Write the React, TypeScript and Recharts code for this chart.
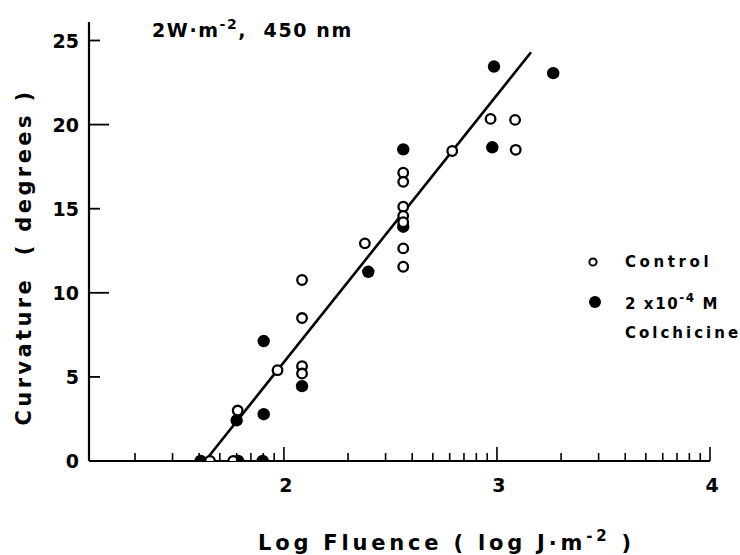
import { ScatterChart, Scatter, XAxis, YAxis, ReferenceLine } from "recharts";

// Control (open circles)
const controlX = [1.653, 1.762, 1.783, 1.97, 2.085, 2.085, 2.085, 2.085, 2.38, 2.56, 2.56, 2.56, 2.56, 2.56, 2.56, 2.56, 2.79, 2.97, 3.085, 3.088];
const controlY = [0, 0, 3.0, 5.4, 10.76, 8.5, 5.64, 5.2, 12.94, 17.14, 16.6, 15.12, 14.57, 14.2, 12.64, 11.55, 18.43, 20.34, 20.28, 18.5];

// 2x10^-4 M colchicine (filled circles)
const colchX = [1.609, 1.785, 1.9, 1.778, 1.905, 1.905, 2.085, 2.396, 2.56, 2.56, 2.978, 2.986, 3.264];
const colchY = [0, 0, 0, 2.42, 2.78, 7.13, 4.45, 11.25, 18.53, 13.93, 18.65, 23.45, 23.06];

// fitted line end points
const fitX = [1.63, 3.16];
const fitY = [0, 24.3];

const yTicks = [0, 5, 10, 15, 20, 25];
const xMajor = [2, 3, 4];
const xDecades = [1, 2, 3];
const xMinorMult = [2, 3, 4, 5, 6, 7, 8, 9];
const X_MIN = 1.085;

const xTicks = [
  ...xDecades.flatMap((d) => xMinorMult.map((m) => d + Math.log10(m))).filter((v) => v > X_MIN),
  ...xMajor,
].sort((a, b) => a - b);

const FONT = '"DejaVu Sans", sans-serif';

const controlPts = controlX.map((x, i) => ({ x, y: controlY[i] }));
const colchPts = colchX.map((x, i) => ({ x, y: colchY[i] }));

function XTick(props: any) {
  const { x, y, payload } = props;
  const v = payload.value;
  const major = xMajor.includes(v);
  return (
    <g>
      <line x1={x} x2={x} y1={y} y2={y - (major ? 14 : 8)} stroke="#000" strokeWidth={1.6} />
      {major ? (
        <text x={x + 2} y={y + 31} textAnchor="middle" fontSize={19} fontWeight="bold" fontFamily={FONT} fill="#000">
          {v}
        </text>
      ) : null}
    </g>
  );
}

function YTick(props: any) {
  const { x, y, payload } = props;
  const v = payload.value;
  const len = v === 0 ? 0 : v % 10 === 0 ? 20 : 11;
  return (
    <g>
      {len ? <line x1={x} x2={x + len} y1={y} y2={y} stroke="#000" strokeWidth={1.8} /> : null}
      <text x={x - 10} y={y + 7} textAnchor="end" fontSize={19} fontWeight="bold" fontFamily={FONT} fill="#000">
        {v}
      </text>
    </g>
  );
}

const OpenDot = (p: any) => <circle cx={p.cx} cy={p.cy} r={4.8} fill="#fff" stroke="#000" strokeWidth={2.3} />;
const FilledDot = (p: any) => <circle cx={p.cx} cy={p.cy} r={6.2} fill="#000" />;

export default function App() {
  return (
    <div style={{ position: "fixed", left: 0, top: 0, width: 740, height: 555, background: "#fff" }}>
      <ScatterChart width={740} height={555} margin={{ top: 22, right: 30, bottom: 0, left: 0 }}>
        <XAxis
          type="number"
          dataKey="x"
          domain={[X_MIN, 4]}
          ticks={xTicks}
          interval={0}
          tick={<XTick />}
          tickLine={false}
          tickSize={0}
          tickMargin={0}
          height={94}
          allowDataOverflow
          axisLine={{ stroke: "#000", strokeWidth: 2.2 }}
        />
        <YAxis
          type="number"
          dataKey="y"
          domain={[0, 26.1]}
          ticks={yTicks}
          interval={0}
          tick={<YTick />}
          tickLine={false}
          tickSize={0}
          tickMargin={0}
          width={89}
          allowDataOverflow
          axisLine={{ stroke: "#000", strokeWidth: 2.2 }}
        />
        <ReferenceLine
          segment={[
            { x: fitX[0], y: fitY[0] },
            { x: fitX[1], y: fitY[1] },
          ]}
          stroke="#000"
          strokeWidth={2.6}
        />
        <Scatter data={colchPts} shape={FilledDot} isAnimationActive={false} />
        <Scatter data={controlPts} shape={OpenDot} isAnimationActive={false} />
      </ScatterChart>

      <svg
        width={740}
        height={555}
        style={{ position: "absolute", left: 0, top: 0, pointerEvents: "none" }}
        fontFamily={FONT}
        fontWeight="bold"
        fill="#000"
      >
        <text x={152} y={37} fontSize={19} letterSpacing={1.6} style={{ whiteSpace: "pre" }}>
          2W·m
          <tspan dy={-8} fontSize={14}>-2</tspan>
          <tspan dy={8}>,  450 nm</tspan>
        </text>

        <text x={258} y={550} fontSize={21} letterSpacing={3.8} style={{ whiteSpace: "pre" }}>
          Log Fluence ( log J·m
          <tspan dy={-9} fontSize={15}>-2</tspan>
          <tspan dy={9}> )</tspan>
        </text>

        <text
          transform="translate(31, 257) rotate(-90)"
          textAnchor="middle"
          fontSize={21}
          letterSpacing={3.4}
          style={{ whiteSpace: "pre" }}
        >
          Curvature  ( degrees )
        </text>

        {/* legend */}
        <circle cx={593} cy={262} r={3.6} fill="#fff" stroke="#000" strokeWidth={2} />
        <text x={625} y={267} fontSize={15} letterSpacing={3.6}>Control</text>
        <circle cx={595} cy={302} r={6} fill="#000" />
        <text x={625} y={309} fontSize={15} letterSpacing={1.6} style={{ whiteSpace: "pre" }}>
          2 x10
          <tspan dy={-7} fontSize={12}>-4</tspan>
          <tspan dy={7}> M</tspan>
        </text>
        <text x={625} y={338} fontSize={15} letterSpacing={3}>Colchicine</text>
      </svg>
    </div>
  );
}
